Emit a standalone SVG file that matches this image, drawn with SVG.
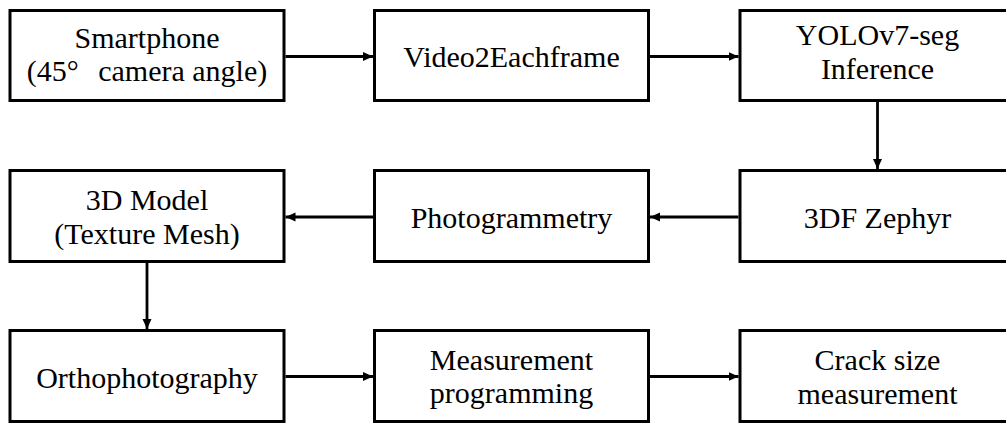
<svg xmlns="http://www.w3.org/2000/svg" width="1006" height="425" viewBox="0 0 1006 425">
<style>
.box{fill:#fff;stroke:#000;stroke-width:3}
text{font-family:'Liberation Serif','Times New Roman',serif;font-size:30px;fill:#000;text-anchor:middle}
.c{stroke:#000;stroke-width:2.8;fill:none;marker-end:url(#ah)}
</style>
<defs>
<marker id="ah" markerUnits="userSpaceOnUse" markerWidth="11" markerHeight="10" refX="10" refY="4.5" orient="auto">
<path d="M0,0 L10,4.5 L0,9 z" fill="#000"/>
</marker>
</defs>
<rect width="1006" height="425" fill="#fff"/>
<g id="n1"><rect class="box" x="10" y="10.5" width="274" height="90"/><text x="147" y="48">Smartphone</text><text x="147" y="81">(45°<tspan dx="12"> camera angle)</tspan></text></g>
<g id="n2"><rect class="box" x="374.5" y="10.5" width="274" height="90"/><text x="511.5" y="67">Video2Eachframe</text></g>
<g id="n3"><rect class="box" x="740" y="10.5" width="275" height="90"/><text x="877.5" y="45">YOLOv7-seg</text><text x="877.5" y="79">Inference</text></g>
<g id="n4"><rect class="box" x="740" y="170.5" width="275" height="91"/><text x="877.5" y="228">3DF Zephyr</text></g>
<g id="n5"><rect class="box" x="374.5" y="170.5" width="274" height="91"/><text x="511.5" y="228">Photogrammetry</text></g>
<g id="n6"><rect class="box" x="10" y="170.5" width="274" height="91"/><text x="147" y="210">3D Model</text><text x="147" y="244">(Texture Mesh)</text></g>
<g id="n7"><rect class="box" x="10" y="330.5" width="274" height="91"/><text x="147" y="388">Orthophotography</text></g>
<g id="n8"><rect class="box" x="374.5" y="330.5" width="274" height="91"/><text x="511.5" y="370">Measurement</text><text x="511.5" y="403">programming</text></g>
<g id="n9"><rect class="box" x="740" y="330.5" width="275" height="91"/><text x="877.5" y="370">Crack size</text><text x="877.5" y="404">measurement</text></g>
<g id="connectors">
<line class="c" x1="285.5" y1="56.5" x2="373" y2="56.5"/>
<line class="c" x1="650" y1="56.5" x2="738.5" y2="56.5"/>
<line class="c" x1="877.5" y1="102" x2="877.5" y2="169"/>
<line class="c" x1="738.5" y1="217" x2="650" y2="217"/>
<line class="c" x1="373" y1="217" x2="285.5" y2="217"/>
<line class="c" x1="147" y1="263" x2="147" y2="329"/>
<line class="c" x1="285.5" y1="376.5" x2="373" y2="376.5"/>
<line class="c" x1="650" y1="376.5" x2="738.5" y2="376.5"/>
</g>
</svg>
